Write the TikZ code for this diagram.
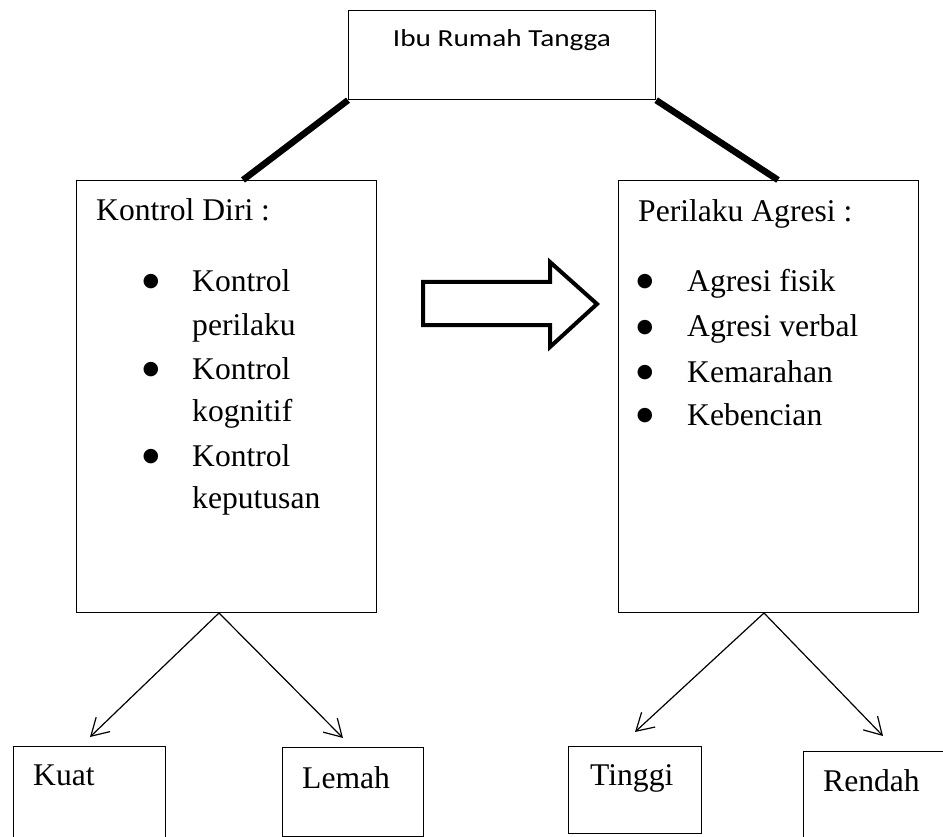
\documentclass[tikz,border=0pt]{standalone}
\usepackage{fontspec}
\usepackage{graphicx}
\setmainfont{Liberation Serif}
\newfontfamily\calfont{Carlito}
\newfontfamily\dejafont{DejaVu Sans}
\usetikzlibrary{arrows.meta}
\begin{document}
\begin{tikzpicture}[x=1pt,y=-1pt,
  boxnode/.style={draw,line width=1.2pt,inner sep=0pt,anchor=north west},
  txt/.style={inner sep=0pt,anchor=base west,font=\fontsize{31.6}{40}\selectfont},
  bul/.style={inner sep=0pt,anchor=base,font=\dejafont\fontsize{19}{22}\selectfont},
  thickline/.style={line width=6.5pt},
  arr/.style={line width=1.2pt,-{Straight Barb[length=17pt,width=20pt,line width=1.2pt]}},
  bigarrow/.style={line width=4pt,miter limit=10}]
\useasboundingbox (0,0) rectangle (943,837);
\clip (0,0) rectangle (943,837);
% boxes
\node[boxnode,minimum width=307pt,minimum height=89pt] (top) at (348,10) {};
\node[boxnode,minimum width=300pt,minimum height=432pt] (kd) at (76,180) {};
\node[boxnode,minimum width=300pt,minimum height=432pt] (pa) at (618,180) {};
\node[boxnode,minimum width=152pt,minimum height=120pt] (kuat) at (13,746) {};
\node[boxnode,minimum width=141pt,minimum height=89pt] (lemah) at (282,747) {};
\node[boxnode,minimum width=133pt,minimum height=87pt] (tinggi) at (568,746) {};
\node[boxnode,minimum width=160pt,minimum height=120pt] (rendah) at (803,751) {};
% texts
\node[inner sep=0pt,anchor=base,font=\calfont\fontsize{26}{30}\selectfont] (ibu) at (502,47) {\resizebox{218pt}{17pt}{Ibu Rumah Tangga}};
\node[txt] (kdt) at (96,221) {Kontrol Diri :};
\node[bul] (b1) at (151,287) {●};
\node[txt] (k1) at (192,292) {Kontrol};
\node[txt] (k2) at (192,335) {perilaku};
\node[bul] (b2) at (151,374) {●};
\node[txt] (k3) at (192,379) {Kontrol};
\node[txt] (k4) at (192,421) {kognitif};
\node[bul] (b3) at (151,461) {●};
\node[txt] (k5) at (192,466) {Kontrol};
\node[txt] (k6) at (192,508) {keputusan};
\node[txt] (pat) at (638,222) {Perilaku Agresi :};
\node[bul] (c1) at (645,287) {●};
\node[txt] (p1) at (687,292) {Agresi fisik};
\node[bul] (c2) at (645,332) {●};
\node[txt] (p2) at (687,337) {Agresi verbal};
\node[bul] (c3) at (645,377) {●};
\node[txt] (p3) at (687,382) {Kemarahan};
\node[bul] (c4) at (645,420) {●};
\node[txt] (p4) at (687,425) {Kebencian};
\node[txt] (kuatt) at (33,785) {Kuat};
\node[txt] (lemaht) at (302,788) {Lemah};
\node[txt] (tinggit) at (590,785) {Tinggi};
\node[txt] (rendaht) at (823,791) {Rendah};
% thick connectors
\coordinate (tl) at (243,180);
\coordinate (tr) at (778,180);
\draw[thickline] (top.south west) -- (tl);
\draw[thickline] (top.south east) -- (tr);
% block arrow
\draw[bigarrow] (423,282) -- (550,282) -- (550,262) -- (597,304) -- (550,347) -- (550,325) -- (423,325) -- cycle;
% lower arrows
\coordinate (o1) at (219,613);
\coordinate (o2) at (764,613);
\coordinate (e1) at (90,737);
\coordinate (e2) at (343,738);
\coordinate (e3) at (635,732);
\coordinate (e4) at (883,736);
\draw[arr] (o1) -- (e1);
\draw[arr] (o1) -- (e2);
\draw[arr] (o2) -- (e3);
\draw[arr] (o2) -- (e4);
\end{tikzpicture}
\end{document}
